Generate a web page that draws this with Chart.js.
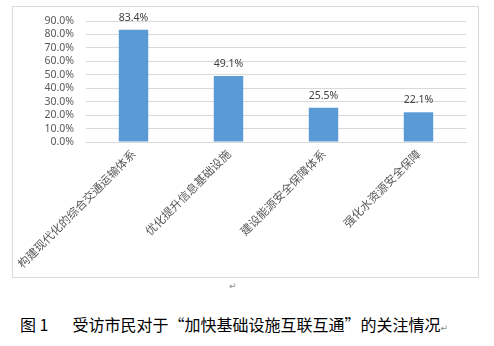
<!DOCTYPE html>
<html>
<head>
<meta charset="utf-8">
<script src="https://cdn.jsdelivr.net/npm/chart.js@4"></script>
<style>
    body { margin: 0; background: #fff; width: 494px; height: 346px; position: relative; overflow: hidden; }
    #box { position: absolute; left: 12px; top: 6px; width: 465px; height: 270px; border: 1px solid #d9d9d9; }
    #box canvas { display: block; }
    .mark { position: absolute; font: 9px "DejaVu Sans"; color: #888; }
    #caption { position: absolute; left: 20px; top: 312px; font: 16px "Noto Sans CJK SC"; color: #000; white-space: pre; }
</style>
</head>
<body>
<div id="box"><canvas id="chart" width="465" height="270"></canvas></div>
<div class="mark" style="left:229px; top:281px;">↵</div>
<div id="caption">图 1<span style="margin-left:24px;">受访市民对于“加快基础设施互联互通”的关注情况</span><span style="font:9px 'DejaVu Sans'; color:#888;">↵</span></div>
<script>
// ── Datos ──
const categorias = ['构建现代化的综合交通运输体系', '优化提升信息基础设施', '建设能源安全保障体系', '强化水资源安全保障'];
const valores    = [83.4, 49.1, 25.5, 22.1];
const ticksY     = [0, 10, 20, 30, 40, 50, 60, 70, 80, 90];

const pct = v => v.toFixed(1) + '%';

// ── Etiquetas encima de las barras ──
const etiquetas = {
    id: 'etiquetas',
    afterDatasetsDraw(chart) {
        const ctx  = chart.ctx;
        const meta = chart.getDatasetMeta(0);
        ctx.save();
        ctx.font = '10.5px "Noto Sans"';
        ctx.fillStyle = '#404040';
        ctx.textAlign = 'center';
        ctx.textBaseline = 'middle';
        meta.data.forEach((bar, i) => ctx.fillText(pct(valores[i]), bar.x, bar.y - 12));
        ctx.restore();
    }
};

new Chart(document.getElementById('chart'), {
    type: 'bar',
    data: {
        labels: categorias,
        datasets: [{
            data: valores,
            backgroundColor: '#5b9bd5',
            categoryPercentage: 1,
            barPercentage: 0.31
        }]
    },
    options: {
        responsive: false,
        animation: false,
        layout: { padding: { top: 14, right: 12, left: 0, bottom: 0 } },
        plugins: { legend: { display: false }, tooltip: { enabled: false } },
        scales: {
            x: {
                grid: { display: false, drawTicks: false },
                border: { color: '#d9d9d9' },
                ticks: {
                    minRotation: 45, maxRotation: 45, padding: 5,
                    color: '#595959', font: { family: '"Noto Sans CJK SC"', size: 11.5 }
                },
                afterFit: s => { s.height = 135; s.paddingLeft = 0; s.paddingRight = 0; }
            },
            y: {
                min: 0, max: 90,
                afterBuildTicks: s => { s.ticks = ticksY.map(v => ({ value: v })); },
                grid: { color: '#d9d9d9', drawTicks: false },
                border: { display: false },
                ticks: {
                    autoSkip: false, padding: 12, color: '#595959',
                    font: { family: '"Noto Sans"', size: 10.5 },
                    callback: v => pct(v)
                },
                afterFit: s => { s.width = 73; s.paddingTop = 0; s.paddingBottom = 0; }
            }
        }
    },
    plugins: [etiquetas]
});
</script>
</body>
</html>
